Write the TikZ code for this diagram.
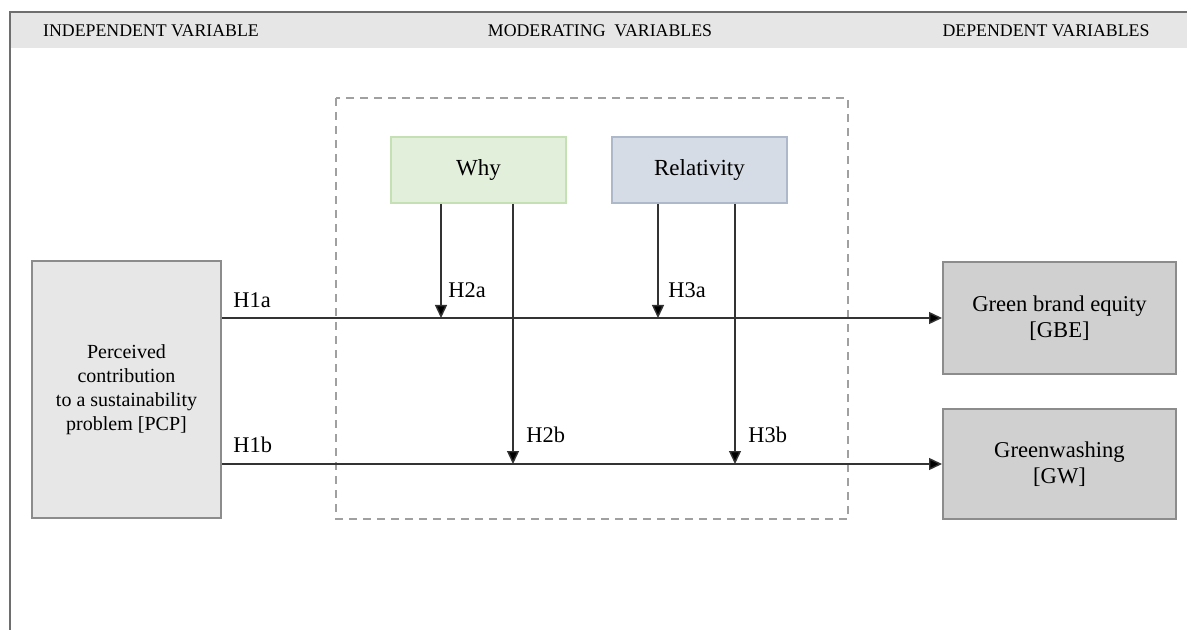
\documentclass[tikz,border=0pt]{standalone}
\usepackage{fontspec}
\setmainfont{Liberation Serif}
\usetikzlibrary{arrows.meta}

\definecolor{bandfill}{HTML}{E6E6E6}
\definecolor{framegray}{HTML}{6E6E6E}
\definecolor{pcpfill}{HTML}{E7E7E7}
\definecolor{depfill}{HTML}{D0D0D0}
\definecolor{boxline}{HTML}{8C8C8C}
\definecolor{whyfill}{HTML}{E2EFDA}
\definecolor{whyline}{HTML}{C5E0B4}
\definecolor{relfill}{HTML}{D6DCE5}
\definecolor{relline}{HTML}{ADB9CA}
\definecolor{dashgray}{HTML}{A0A0A0}

\begin{document}
\begin{tikzpicture}[x=0.5pt, y=-0.5pt,
    varbox/.style={draw=boxline, line width=1pt, align=center, inner sep=0pt,
      font=\fontsize{10}{12}\selectfont},
    modbox/.style={line width=1pt, inner sep=0pt, minimum width=87.5pt,
      minimum height=33pt, font=\fontsize{11.5}{13}\selectfont},
    head/.style={font=\fontsize{8.9}{10}\selectfont},
    hyp/.style={font=\fontsize{11.2}{13}\selectfont, anchor=west, inner sep=0pt},
    arr/.style={draw=black!80, line width=0.7pt, -{Triangle[width=6pt,length=6.5pt,fill=black]}}]
    \useasboundingbox (0,0) rectangle (1187,630);
    %INTESTAZIONE
    \fill[bandfill] (10,12) rectangle (1187,48);
    \draw[framegray, line width=0.9pt] (1187,12) -- (10,12) -- (10,630);
    \node[head] (indep) at (151,31) {INDEPENDENT VARIABLE};
    \node[head] (moder) at (600,31) {MODERATING\ \ VARIABLES};
    \node[head] (dep) at (1046,31) {DEPENDENT VARIABLES};
    %MODERATORI
    \draw[dashgray, line width=0.8pt, dash pattern=on 4pt off 3pt] (336,98) rectangle (848,519);
    \node[modbox, draw=whyline, fill=whyfill] (why) at (478.5,170) {Why};
    \node[modbox, draw=relline, fill=relfill] (rel) at (699.5,170) {Relativity};
    %VARIABILI
    \node[varbox, fill=pcpfill, minimum width=94.5pt, minimum height=128.5pt] (pcp) at (126.5,389.5)
      {Perceived\\contribution\\to a sustainability\\problem [PCP]};
    \node[varbox, fill=depfill, minimum width=116.5pt, minimum height=56pt,
      font=\fontsize{11.3}{13}\selectfont] (gbe) at (1059.5,318) {Green brand equity\\{}[GBE]};
    \node[varbox, fill=depfill, minimum width=116.5pt, minimum height=55pt,
      font=\fontsize{11.3}{13}\selectfont] (gw) at (1059.5,464) {Greenwashing\\{}[GW]};
    \coordinate (h2a) at (441,318);
    \coordinate (h2b) at (513,464);
    \coordinate (h3a) at (658,318);
    \coordinate (h3b) at (735,464);
    \draw[arr] (pcp.east |- gbe.west) -- (gbe.west);
    \draw[arr] (pcp.east |- gw.west) -- (gw.west);
    \draw[arr] (h2a |- why.south) -- (h2a);
    \draw[arr] (h2b |- why.south) -- (h2b);
    \draw[arr] (h3a |- rel.south) -- (h3a);
    \draw[arr] (h3b |- rel.south) -- (h3b);
    \node[hyp] (l1a) at (233,300) {H1a};
    \node[hyp] (l1b) at (233,445) {H1b};
    \node[hyp] (l2a) at (448,290) {H2a};
    \node[hyp] (l2b) at (526,435) {H2b};
    \node[hyp] (l3a) at (668,290) {H3a};
    \node[hyp] (l3b) at (748,435) {H3b};
\end{tikzpicture}
\end{document}
